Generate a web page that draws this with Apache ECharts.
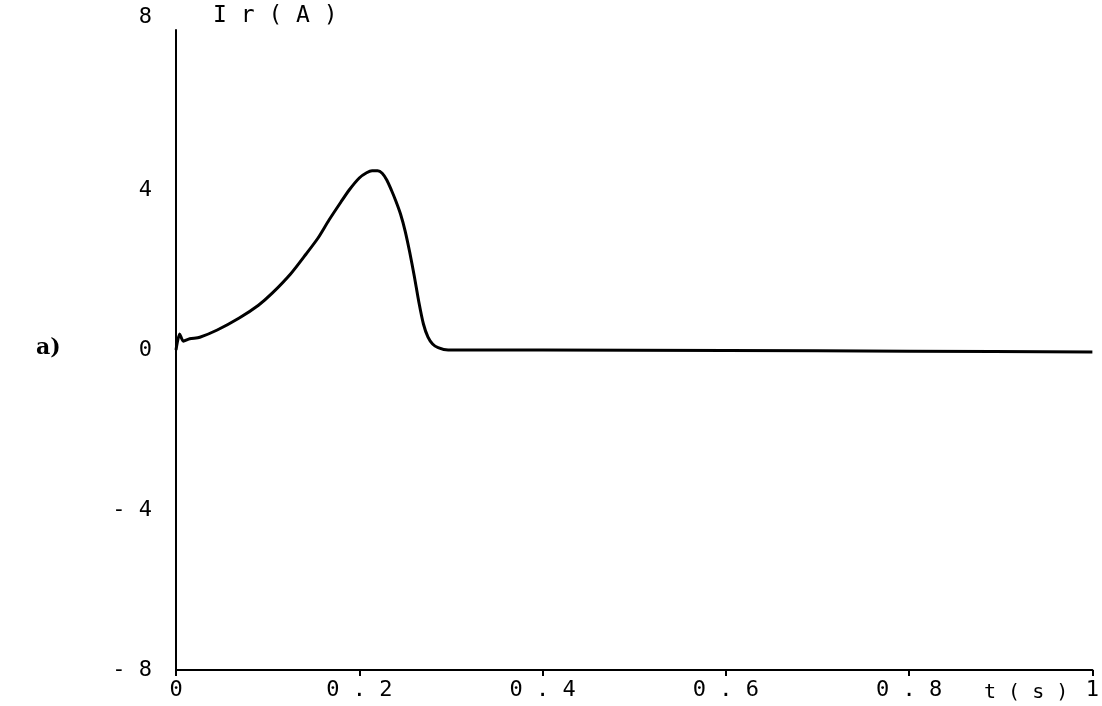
<!DOCTYPE html>
<html>
<head>
<meta charset="utf-8">
<script src="https://cdn.jsdelivr.net/npm/echarts@6/dist/echarts.min.js"></script>
<style>
  html, body { margin: 0; padding: 0; background: #fff; }
  #grf { width: 1102px; height: 706px; }
</style>
</head>
<body>
<div id="grf"></div>
<script>
// tempo (s) e corrente Ir (A)
var tempo = [0, 0.004, 0.008, 0.015, 0.026, 0.045, 0.069, 0.09, 0.105, 0.125, 0.142, 0.155, 0.167, 0.18, 0.189, 0.2, 0.208, 0.214, 0.22, 0.225, 0.23, 0.235, 0.24, 0.245, 0.25, 0.255, 0.26, 0.265, 0.27, 0.275, 0.28, 0.286, 0.297, 0.4, 0.6, 0.8, 1.0];
var corrente = [0, 0.4, 0.22, 0.28, 0.32, 0.5, 0.8, 1.12, 1.42, 1.9, 2.4, 2.8, 3.25, 3.7, 4.0, 4.3, 4.43, 4.48, 4.48, 4.42, 4.25, 4.0, 3.72, 3.4, 2.98, 2.45, 1.85, 1.2, 0.65, 0.32, 0.15, 0.06, 0.0, 0.0, -0.01, -0.03, -0.05];

var fonteMono = 'DejaVu Sans Mono';

var grafico = echarts.init(document.getElementById('grf'));

var pontos = [];
for (var i = 0; i < tempo.length; i++) {
	pontos.push([tempo[i], corrente[i]]);
}

// espaca os caracteres como no original
function espaca(txt) {
	return String(txt).split('').join(' ');
}

var opcoes = {
	animation: false,
	backgroundColor: '#fff',
	grid: {
		left: 176,
		right: 4,
		top: 30,
		bottom: 36
	},
	xAxis: {
		type: 'value',
		min: 0,
		max: 1,
		interval: 0.2,
		axisLine: { show: true, onZero: false, lineStyle: { color: '#000', width: 2 } },
		axisTick: { show: true, length: 6, lineStyle: { color: '#000', width: 2 } },
		splitLine: { show: false },
		axisLabel: {
			color: '#000',
			fontFamily: fonteMono,
			fontSize: 22,
			margin: 9,
			formatter: function (v) {
				if (v === 0 || v === 1) return String(v);
				return espaca(v.toFixed(1));
			}
		}
	},
	yAxis: {
		type: 'value',
		min: -8,
		max: 8,
		interval: 4,
		axisLine: { show: true, onZero: false, lineStyle: { color: '#000', width: 2 } },
		axisTick: { show: false },
		splitLine: { show: false },
		axisLabel: {
			color: '#000',
			fontFamily: fonteMono,
			fontSize: 22,
			margin: 24,
			formatter: function (v) {
				var s = v < 0 ? '- ' + Math.abs(v) : String(v);
				if (v === 8) return '{topo|' + s + '}';
				return s;
			},
			rich: {
				topo: { fontFamily: fonteMono, fontSize: 22, color: '#000', padding: [0, 0, 26, 0] }
			}
		}
	},
	graphic: [
		{
			type: 'text',
			left: 213,
			top: 5,
			style: { text: 'I r ( A )', fontFamily: fonteMono, fontSize: 23, fill: '#000' }
		},
		{
			type: 'text',
			left: 984,
			top: 683,
			style: { text: 't ( s )', fontFamily: fonteMono, fontSize: 20, fill: '#000' }
		},
		{
			type: 'text',
			left: 36,
			top: 337,
			style: { text: 'a)', fontFamily: 'DejaVu Serif', fontWeight: 'bold', fontSize: 22, fill: '#000' }
		}
	],
	series: [{
		type: 'line',
		data: pontos,
		showSymbol: false,
		smooth: 0.25,
		lineStyle: { color: '#000', width: 3 }
	}]
};

grafico.setOption(opcoes);
</script>
</body>
</html>
